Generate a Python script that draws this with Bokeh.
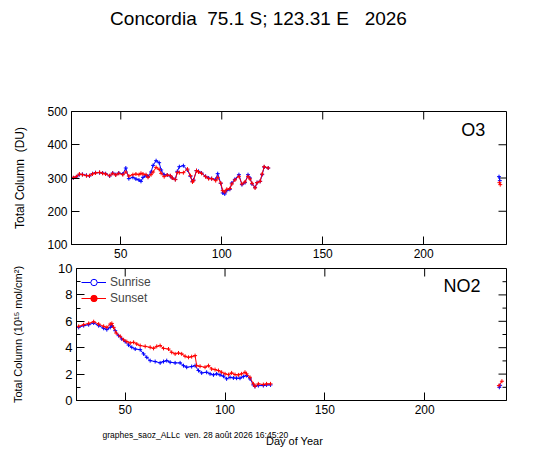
import math
from bokeh.plotting import figure
from bokeh.layouts import column, row
from bokeh.models import (ColumnDataSource, Range1d, FixedTicker, Label, Legend, LegendItem)
from bokeh.core.properties import value
from bokeh.embed import file_html
from bokeh.resources import INLINE

FONT = "Liberation Sans"
BLUE = "#0000ff"
RED = "#ff0000"
W = 540
FRAME_L, FRAME_R = 76, 506   # shared frame edges of the aligned column members (page px)

TITLE = "Concordia\u00a0 75.1 S; 123.31 E\u00a0 \u00a02026"
FOOTER = "graphes_saoz_ALLc\u00a0 ven. 28 ao\u00fbt 2026 16:45:20"
X_LABEL = "Day of Year"
O3_LABEL = "Total Column\u00a0 (DU)"
NO2_LABEL = "Total Column (10\u00b9\u2075 mol/cm\u00b2)"
X_TICKS = [50, 100, 150, 200]
O3_TICKS = [100, 200, 300, 400, 500]
NO2_TICKS = [0, 2, 4, 6, 8, 10]
NO2_MINOR = [1, 3, 5, 7, 9]
X_RANGE = (25.6, 241.0)
O3_RANGE = (100, 500)
NO2_RANGE = (0, 10)

# ---- O3 (DU) ----
o3_days = [26.5, 28, 29.5, 31, 33, 34.5, 36, 37.5, 39.5, 41, 42.5, 44.5, 46, 47.5, 49,
           51, 52.5, 54, 56, 57.5, 59, 60, 61, 62.5, 63.5, 65, 66, 67.5, 69, 70,
           71.5, 73, 74.5, 75.5, 77, 78, 79, 81, 83, 84.5, 85.5, 86, 87.5, 88.5, 90,
           92, 93.5, 95, 97, 98, 99.5, 100.5, 101.5, 102.5, 104, 105, 106.5, 108.5, 110, 111.5,
           113, 114, 115, 116.5, 117.5, 119, 120, 121, 123]
o3_sunset = [301, 304, 312, 310, 307, 307, 312, 315, 317, 314, 312, 307, 314, 309, 314,
             310, 318, 306, 310, 312, 310, 314, 312, 310, 302, 310, 318, 332, 326, 314,
             304, 309, 307, 300, 295, 317, 316, 316, 327, 307, 288, 292, 322, 318, 314,
             304, 298, 298, 292, 302, 285, 262, 258, 266, 268, 282, 294, 305, 282, 288,
             305, 297, 284, 270, 286, 290, 312, 334, 330]
o3_sunrise = [300, 303, 310, 311, 308, 306, 313, 316, 316, 315, 313, 306, 315, 310, 315,
              312, 330, 298, 302, 297, 294, 290, 302, 307, 305, 318, 338, 352, 346, 324,
              310, 309, 306, 300, 296, 320, 334, 337, 324, 305, 290, 294, 322, 320, 315,
              305, 300, 298, 296, 313, 284, 255, 252, 262, 266, 285, 296, 310, 280, 286,
              310, 300, 282, 272, 286, 290, 310, 333, 330]
o3_late_rise_days = [237.3, 237.7]
o3_late_rise = [304, 292]
o3_late_set_days = [237.5, 237.9]
o3_late_set = [286, 280]

# ---- NO2 (1e15 mol/cm2) ----
no2_set_days = [26.7, 29.2, 31.7, 34.2, 36.7, 39.2, 40.8, 42.5, 43.3, 44.2,
                45.5, 47.5, 49.2, 50.8, 52.5, 54.2, 55.8, 57.5, 60, 62.5,
                64.2, 65.8, 67.5, 69.2, 71.7, 73.3, 75, 76.7, 78.3, 80,
                81.7, 83.3, 85, 85.8, 87.5, 90, 91.7, 93.3, 95, 96.7,
                98.3, 100, 101.7, 103.3, 105, 106.7, 108.3, 110, 110.8, 112.5,
                114.2, 115, 116.7, 119.2, 120.8, 122.8]
no2_sunset = [5.62, 5.74, 5.84, 5.97, 5.79, 5.62, 5.54, 5.79, 5.84, 5.54,
              5.11, 4.86, 4.6, 4.46, 4.36, 4.41, 4.28, 4.16, 4.1, 4.03,
              3.95, 4.1, 4.16, 3.95, 3.9, 3.65, 3.53, 3.6, 3.53, 3.35,
              3.27, 3.32, 3.4, 2.64, 2.59, 2.52, 2.64, 2.39, 2.34, 2.27,
              2.14, 2.02, 1.96, 2.09, 1.96, 1.94, 2.02, 2.14, 2.02, 1.76,
              1.26, 1.08, 1.26, 1.21, 1.26, 1.26]
no2_rise_days = [26.7, 29.2, 31.7, 34.2, 36.7, 39.2, 40.8, 42.5, 43.3, 45,
                 46.7, 48.3, 50, 51.7, 53.3, 55, 57.5, 59.2, 60.8, 62.5,
                 65, 67.5, 69.2, 70.8, 72.5, 75, 77.5, 79.2, 80.8, 83.3,
                 85, 86.7, 88.3, 90.8, 92.5, 94.2, 95.8, 97.5, 99.2, 100.8,
                 102.5, 104.2, 105.8, 107.5, 109.2, 110.8, 112.5, 114.2, 115, 116.7,
                 119.2, 120.8, 122.8]
no2_sunrise = [5.54, 5.67, 5.74, 5.87, 5.67, 5.47, 5.37, 5.54, 5.67, 5.29,
               4.91, 4.66, 4.46, 4.2, 4.03, 3.9, 3.85, 3.53, 3.27, 3.02,
               2.95, 2.85, 2.95, 3.02, 2.9, 2.85, 2.85, 2.64, 2.52, 2.57,
               2.64, 2.27, 2.09, 2.14, 2.02, 1.94, 2.02, 1.94, 1.84, 1.64,
               1.76, 1.71, 1.69, 1.69, 1.81, 1.89, 1.64, 1.18, 1.06, 1.13,
               1.13, 1.18, 1.18]
no2_late_rise_days = [237.4, 237.8]
no2_late_rise = [1.0, 1.15]
no2_late_set_days = [237.2, 238.7]
no2_late_set = [1.13, 1.46]


def style_axis(ax, ticks, size, minor=None):
    ax.ticker = FixedTicker(ticks=ticks, minor_ticks=minor or [])
    ax.major_tick_in = 8
    ax.major_tick_out = 0
    ax.minor_tick_in = 4
    ax.minor_tick_out = 0
    ax.axis_line_color = "black"
    ax.major_tick_line_color = "black"
    ax.minor_tick_line_color = "black"
    ax.major_label_text_font = FONT
    ax.major_label_text_color = "black"
    ax.major_label_text_font_size = size
    ax.major_label_standoff = 4
    ax.axis_label_text_font = FONT
    ax.axis_label_text_font_style = "normal"
    ax.axis_label_text_color = "black"


def mirror_ticks(p, xticks, yticks, yrange, yminor=None):
    # inward ticks on the top and right frame edges
    p.ray(x=xticks, y=[yrange[1]] * len(xticks), length=8, length_units="screen",
          angle=-math.pi / 2, line_color="black", line_width=1)
    p.ray(x=[X_RANGE[1]] * len(yticks), y=yticks, length=8, length_units="screen",
          angle=math.pi, line_color="black", line_width=1)
    if yminor:
        p.ray(x=[X_RANGE[1]] * len(yminor), y=yminor, length=4, length_units="screen",
              angle=math.pi, line_color="black", line_width=1)


def make_panel(height, yr, border, yticks, ysize, ylabel, ylsize, ystandoff, minor=None):
    p = figure(width=W, height=height, x_range=Range1d(*X_RANGE), y_range=Range1d(*yr),
               toolbar_location=None, output_backend="svg",
               min_border_left=border[0], min_border_right=border[1],
               min_border_top=border[2], min_border_bottom=border[3])
    p.xgrid.visible = False
    p.ygrid.visible = False
    p.outline_line_color = "black"
    p.background_fill_color = "white"
    p.border_fill_color = "white"
    style_axis(p.xaxis[0], X_TICKS, "12px")
    style_axis(p.yaxis[0], yticks, ysize, minor=minor)
    p.yaxis[0].axis_label = ylabel
    p.yaxis[0].axis_label_text_font_size = ylsize
    p.yaxis[0].axis_label_standoff = ystandoff
    mirror_ticks(p, X_TICKS, yticks, yr, minor)
    return p


def add_series(p, days, vals, color):
    src = ColumnDataSource(dict(x=days, y=vals))
    r = p.line("x", "y", source=src, line_color=color, line_width=1)
    p.scatter("x", "y", source=src, marker="cross", size=4, line_color=color, line_width=1)
    return r, src


def text_fig(height):
    # x in page pixels (frame is aligned with the NO2 panel's frame)
    f = figure(width=W, height=height, x_range=Range1d(FRAME_L, FRAME_R),
               y_range=Range1d(0, height),
               toolbar_location=None, output_backend="svg", min_border=0,
               x_axis_location=None, y_axis_location=None)
    f.grid.visible = False
    f.outline_line_color = None
    f.background_fill_color = "white"
    f.border_fill_color = "white"
    return f


# ---- title ----
pt = text_fig(58)
pt.text(x=[258], y=[40], text=[TITLE], text_font=value(FONT), text_font_size="19px",
        text_align="center", text_baseline="middle", text_color="black")

# ---- O3 panel ----
p1 = make_panel(204, O3_RANGE, (71, 34, 53, 18), O3_TICKS, "12px", O3_LABEL, "12px", 17)
add_series(p1, o3_days, o3_sunrise, BLUE)
add_series(p1, o3_days, o3_sunset, RED)
add_series(p1, o3_late_rise_days, o3_late_rise, BLUE)
add_series(p1, o3_late_set_days, o3_late_set, RED)
p1.add_layout(Label(x=230.5, y=445, text="O3", text_font=FONT, text_font_size="18px",
                    text_align="right", text_baseline="middle", text_color="black"))

# ---- NO2 panel ----
p2 = make_panel(162, NO2_RANGE, (FRAME_L, W - FRAME_R, 6, 24), NO2_TICKS, "13px",
                NO2_LABEL, "11px", 31, minor=NO2_MINOR)
rl, rsrc = add_series(p2, no2_rise_days, no2_sunrise, BLUE)
sl, ssrc = add_series(p2, no2_set_days, no2_sunset, RED)
add_series(p2, no2_late_rise_days, no2_late_rise, BLUE)
add_series(p2, no2_late_set_days, no2_late_set, RED)
p2.add_layout(Label(x=228, y=8.7, text="NO2", text_font=FONT, text_font_size="18px",
                    text_align="right", text_baseline="middle", text_color="black"))

# legend symbols (open / filled circles), zero-size in the plot itself
cr = p2.scatter("x", "y", source=rsrc, marker="circle", size=0, line_color=BLUE,
                fill_color="white", line_width=1)
cs = p2.scatter("x", "y", source=ssrc, marker="circle", size=0, line_color=RED,
                fill_color=RED, line_width=1)
legend = Legend(items=[LegendItem(label="Sunrise", renderers=[rl, cr]),
                       LegendItem(label="Sunset", renderers=[sl, cs])],
                location=(5, 94), margin=0, padding=5, spacing=0,
                label_height=16, glyph_height=16, glyph_width=25, label_standoff=4,
                label_text_font=FONT, label_text_font_size="12px",
                border_line_color=None, background_fill_alpha=0)
p2.add_layout(legend)

# ---- footer: x-axis title and file stamp ----
pf = text_fig(29)
pf.text(x=[294], y=[13], text=[X_LABEL], text_font=value(FONT), text_font_size="11px",
        text_align="center", text_baseline="middle", text_color="black")
pf.text(x=[102], y=[19], text=[FOOTER], text_font=value(FONT), text_font_size="8.5px",
        text_align="left", text_baseline="middle", text_color="black")

layout = column(pt, row(p1), p2, pf)
open("out.html", "w").write(file_html(layout, INLINE))
